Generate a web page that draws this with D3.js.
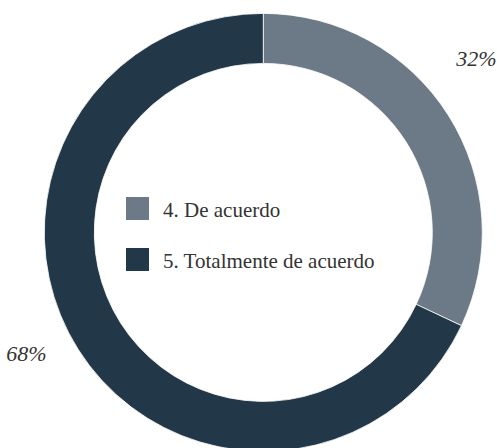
<!DOCTYPE html>
<html>
<head>
<meta charset="utf-8">
<script src="https://cdn.jsdelivr.net/npm/d3@7"></script>
<style>
  html, body { margin: 0; padding: 0; background: #fff; }
  svg { display: block; }
</style>
</head>
<body>
<svg id="chart" width="497" height="448"></svg>
<script>
// ---- data ----
const categories = ["4. De acuerdo", "5. Totalmente de acuerdo"];
const values = [32, 68];
const valueLabels = ["32%", "68%"];
const colors = ["#6c7986", "#223747"];

// ---- layout ----
const W = 497, H = 448;
const cx = 263.3, cy = 232.4;
const outerR = 219, innerR = 169;
const labelShiftDeg = [-6.8, 5.3];
const labelRadius = [275, 266];

const svg = d3.select("#chart");
const g = svg.append("g").attr("transform", `translate(${cx},${cy})`);

const pie = d3.pie().sort(null).value(d => d.value);
const arcs = pie(values.map((v, i) => ({ value: v, i })));
const arc = d3.arc().innerRadius(innerR).outerRadius(outerR);

g.selectAll("path.slice")
  .data(arcs)
  .join("path")
  .attr("class", "slice")
  .attr("d", arc)
  .attr("fill", d => colors[d.data.i])
  .attr("stroke", "#ffffff")
  .attr("stroke-width", 0.8);

// percentage labels
g.selectAll("text.pct")
  .data(arcs)
  .join("text")
  .attr("class", "pct")
  .attr("x", d => {
    const a = (d.startAngle + d.endAngle) / 2 + labelShiftDeg[d.data.i] * Math.PI / 180;
    return labelRadius[d.data.i] * Math.sin(a);
  })
  .attr("y", d => {
    const a = (d.startAngle + d.endAngle) / 2 + labelShiftDeg[d.data.i] * Math.PI / 180;
    return -labelRadius[d.data.i] * Math.cos(a) + 7.5;
  })
  .attr("text-anchor", "middle")
  .attr("font-family", "'Liberation Serif', 'DejaVu Serif', serif")
  .attr("font-style", "italic")
  .attr("font-size", 22)
  .attr("fill", "#333333")
  .text(d => valueLabels[d.data.i]);

// legend
const legend = svg.append("g").attr("transform", "translate(126,197)");
const item = legend.selectAll("g.item")
  .data(categories)
  .join("g")
  .attr("class", "item")
  .attr("transform", (d, i) => `translate(0,${i * 51})`);
item.append("rect")
  .attr("width", 23).attr("height", 23)
  .attr("fill", (d, i) => colors[i]);
item.append("text")
  .attr("x", 37).attr("y", 20)
  .attr("font-family", "'Liberation Serif', 'DejaVu Serif', serif")
  .attr("font-size", 21)
  .attr("fill", "#333333")
  .text(d => d);
</script>
</body>
</html>
